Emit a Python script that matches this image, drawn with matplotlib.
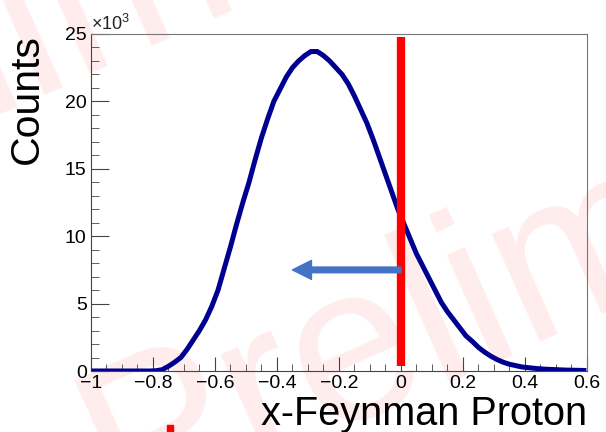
import numpy as np
import matplotlib.pyplot as plt
from matplotlib.patches import Rectangle

plt.rcParams['font.family'] = ['Liberation Sans', 'DejaVu Sans']
plt.rcParams['mathtext.fontset'] = 'custom'
plt.rcParams['mathtext.rm'] = 'Liberation Sans'
plt.rcParams['mathtext.default'] = 'regular'

# x-Feynman bin centres and counts (in units of 10^3)
xf = np.round(np.arange(-0.99, 0.60, 0.02), 2)
counts_k = [0, 0, 0, 0, 0, 0, 0, 0, 0, 0,
            0.02, 0.1, 0.35, 0.65, 1.0, 1.6, 2.3, 3.0, 3.8, 4.8,
            6.0, 7.6, 9.2, 10.9, 12.5, 14.0, 15.7, 17.3, 18.7, 20.0,
            20.9, 21.8, 22.5, 23.0, 23.4, 23.7, 23.7, 23.4, 23.0, 22.5,
            22.0, 21.3, 20.4, 19.4, 18.4, 17.2, 15.9, 14.6, 13.3, 12.0,
            10.9, 9.8, 8.7, 7.8, 6.9, 6.0, 5.1, 4.4, 3.8, 3.2,
            2.6, 2.2, 1.75, 1.4, 1.1, 0.85, 0.65, 0.5, 0.4, 0.3,
            0.25, 0.2, 0.16, 0.13, 0.11, 0.09, 0.07, 0.06, 0.05, 0.04]

cut_x = 0.0
cut_y = [0.37, 24.8]
arrow_from = (0.0, 7.5)
arrow_to = (-0.35, 7.5)

W, H = 606, 432
fig = plt.figure(figsize=(6.06, 4.32), dpi=100)
ax = fig.add_axes([0.150, 0.1412, 0.8186, 0.7801])
ax.patch.set_alpha(0)

# faint watermark behind everything (two lines)
for px, py in [(119, 521), (-331, 253)]:
    fig.text(px / W, 1 - py / H, 'Preliminary', fontsize=160, rotation=24,
             rotation_mode='anchor', ha='left', va='baseline', color='#ffecec', zorder=-1)
fig.patches.append(Rectangle((167 / W, 0), 6 / W, 7 / H, transform=fig.transFigure,
                             color='red', zorder=1))

ax.plot(xf, counts_k, color='#000090', lw=3.6, solid_joinstyle='miter', zorder=3)
ax.plot([cut_x, cut_x], cut_y, color='#ff0000', lw=6, solid_capstyle='butt', zorder=4)
ax.annotate('', xy=arrow_to, xytext=arrow_from,
            arrowprops=dict(arrowstyle='simple,head_length=13.7,head_width=13.7,tail_width=4.1',
                            color='#4472c4', mutation_scale=1, shrinkA=0, shrinkB=0), zorder=5)

ax.set_xlim(-1, 0.6)
ax.set_ylim(0, 25)
ax.set_xticks(np.arange(-1, 0.61, 0.2))
ax.set_xticklabels(['\u22121', '\u22120.8', '\u22120.6', '\u22120.4', '\u22120.2', '0', '0.2', '0.4', '0.6'])
ax.set_xticks(np.arange(-1, 0.61, 0.05), minor=True)
ax.set_yticks(np.arange(0, 26, 5))
ax.set_yticks(np.arange(0, 26, 1), minor=True)
ax.tick_params(which='both', direction='in', top=False, right=False,
               labelsize=14, color='#444444', pad=3)
ax.tick_params(axis='x', which='major', length=10)
ax.tick_params(axis='x', which='minor', length=5)
ax.tick_params(axis='y', which='major', length=13)
ax.tick_params(axis='y', which='minor', length=6)
for s in ['left', 'bottom']:
    ax.spines[s].set_color('#444444')
for s in ['top', 'right']:
    ax.spines[s].set_color('#777777')

ax.text(0, 1.0, '\u00d710$^{3}$', transform=ax.transAxes, fontsize=13,
        ha='left', va='bottom', color='#222222')
ax.set_xlabel('x-Feynman Proton', fontsize=28.5, loc='right', labelpad=2)
ax.set_ylabel('Counts', fontsize=29.5, loc='top', labelpad=14)

fig.savefig('out.png', dpi=100)
